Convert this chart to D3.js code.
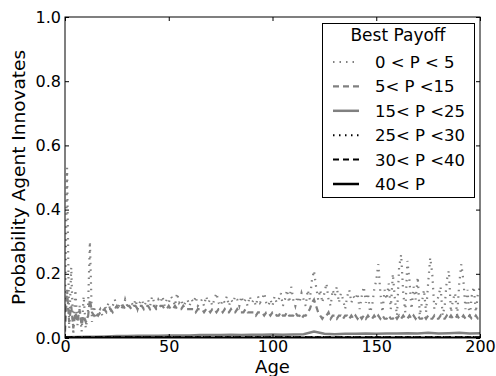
<!DOCTYPE html>
<html><head><meta charset="utf-8">
<script src="https://cdn.jsdelivr.net/npm/d3@7"></script>
<style>body{margin:0;background:#fff}svg{display:block}text{font-family:"DejaVu Sans",sans-serif}</style>
</head><body>
<script>
// Ages 0..200 for noisy series
const ages = d3.range(0, 201);
const seriesLow = [ // 0 < P < 5
0.08,0.53,0.03,0.22,0.01,0.15,0.04,0.10,0.02,0.13,0.03,0.07,0.30,0.05,0.10,0.06,0.08,0.09,0.07,0.10,
0.09,0.11,0.08,0.10,0.12,0.09,0.10,0.11,0.09,0.12,0.10,0.09,0.11,0.10,0.12,0.09,0.11,0.12,0.10,0.11,
0.12,0.10,0.13,0.11,0.10,0.12,0.11,0.13,0.10,0.12,0.11,0.13,0.12,0.10,0.14,0.11,0.12,0.10,0.11,0.12,
0.10,0.12,0.11,0.13,0.10,0.11,0.12,0.10,0.13,0.11,0.12,0.10,0.12,0.14,0.11,0.10,0.12,0.11,0.13,0.10,
0.12,0.11,0.13,0.12,0.10,0.13,0.11,0.12,0.10,0.13,0.11,0.12,0.10,0.13,0.11,0.12,0.14,0.11,0.10,0.12,
0.10,0.13,0.11,0.12,0.14,0.10,0.12,0.15,0.11,0.16,0.12,0.10,0.13,0.11,0.14,0.12,0.10,0.15,0.12,0.18,
0.21,0.16,0.12,0.15,0.11,0.14,0.17,0.12,0.10,0.15,0.13,0.16,0.11,0.14,0.12,0.09,0.13,0.15,0.11,0.13,
0.12,0.14,0.09,0.13,0.16,0.11,0.14,0.08,0.10,0.15,0.18,0.23,0.14,0.08,0.15,0.12,0.17,0.09,0.20,0.12,
0.07,0.22,0.26,0.14,0.08,0.24,0.18,0.09,0.16,0.12,0.19,0.07,0.11,0.15,0.08,0.17,0.25,0.20,0.09,0.11,
0.13,0.16,0.07,0.10,0.18,0.21,0.08,0.12,0.14,0.07,0.17,0.23,0.18,0.09,0.15,0.06,0.13,0.16,0.08,0.14,
0.16];
const seriesMid = [ // 5 < P < 15
0.02,0.15,0.05,0.10,0.03,0.08,0.05,0.09,0.04,0.07,0.05,0.06,0.12,0.08,0.07,0.08,0.07,0.08,0.08,0.09,
0.08,0.09,0.09,0.08,0.09,0.10,0.09,0.09,0.10,0.09,0.10,0.10,0.09,0.10,0.10,0.09,0.10,0.10,0.09,0.10,
0.10,0.09,0.10,0.10,0.09,0.09,0.10,0.10,0.09,0.09,0.10,0.09,0.09,0.10,0.09,0.09,0.09,0.10,0.09,0.09,
0.09,0.09,0.09,0.08,0.09,0.09,0.09,0.08,0.09,0.09,0.08,0.09,0.09,0.08,0.09,0.09,0.08,0.09,0.08,0.08,
0.09,0.08,0.08,0.09,0.08,0.08,0.08,0.09,0.08,0.08,0.08,0.08,0.07,0.08,0.08,0.08,0.07,0.08,0.08,0.07,
0.08,0.08,0.07,0.07,0.08,0.07,0.07,0.08,0.07,0.07,0.07,0.08,0.07,0.07,0.06,0.07,0.07,0.08,0.09,0.11,
0.12,0.10,0.08,0.07,0.06,0.07,0.07,0.08,0.06,0.07,0.07,0.06,0.07,0.07,0.06,0.07,0.07,0.06,0.07,0.06,
0.07,0.06,0.07,0.06,0.07,0.06,0.07,0.06,0.06,0.07,0.06,0.07,0.06,0.07,0.06,0.06,0.07,0.06,0.06,0.07,
0.06,0.07,0.06,0.07,0.06,0.06,0.07,0.06,0.07,0.06,0.07,0.06,0.06,0.07,0.06,0.07,0.06,0.06,0.07,0.06,
0.06,0.07,0.06,0.06,0.07,0.06,0.07,0.06,0.06,0.07,0.06,0.06,0.07,0.06,0.06,0.07,0.06,0.06,0.07,0.06,
0.06];
// Smoother series sampled every 5 ages
const agesCoarse = d3.range(0, 201, 5);
const seriesHigh = [ // 15 < P < 25
0.002,0.003,0.004,0.004,0.005,0.006,0.006,0.007,0.007,0.007,0.008,0.008,0.008,0.009,0.009,0.009,0.010,0.009,0.010,0.010,
0.011,0.010,0.011,0.012,0.020,0.013,0.012,0.013,0.013,0.014,0.013,0.014,0.014,0.015,0.014,0.016,0.014,0.015,0.016,0.014,0.015];
const agesBlack = [0, 50, 100, 150, 200];
const series25 = [0.003, 0.003, 0.003, 0.003, 0.003];
const series30 = [0.002, 0.002, 0.002, 0.002, 0.002];
const series40 = [0.001, 0.001, 0.001, 0.001, 0.001];

const legendLabels = ["0 < P < 5", "5< P <15", "15< P <25", "25< P <30", "30< P <40", "40< P"];
const xTicks = [0, 50, 100, 150, 200];
const yTicks = [0.0, 0.2, 0.4, 0.6, 0.8, 1.0];

const W = 496, H = 376;
const m = {left: 65, right: 16, top: 17, bottom: 38};
const x = d3.scaleLinear().domain([0, 200]).range([m.left, W - m.right]);
const y = d3.scaleLinear().domain([0, 1]).range([H - m.bottom, m.top]);

const svg = d3.select("body").append("svg").attr("width", W).attr("height", H);

const styles = [
  {color: "#808080", dash: "1.5,5", w: 2.2},
  {color: "#808080", dash: "6,4", w: 2.2},
  {color: "#808080", dash: null, w: 2.5},
  {color: "#000", dash: "1.5,4.5", w: 2},
  {color: "#000", dash: "6,4", w: 2},
  {color: "#000", dash: null, w: 2.5}
];
const dataSets = [
  [ages, seriesLow], [ages, seriesMid], [agesCoarse, seriesHigh],
  [agesBlack, series25], [agesBlack, series30], [agesBlack, series40]
];

svg.append("clipPath").attr("id", "c").append("rect")
  .attr("x", m.left).attr("y", m.top).attr("width", W - m.left - m.right).attr("height", H - m.top - m.bottom);

const line = d3.line().x(d => x(d[0])).y(d => y(d[1]));
const g = svg.append("g").attr("clip-path", "url(#c)");
dataSets.forEach((ds, i) => {
  const pts = ds[0].map((a, j) => [a, ds[1][j]]);
  g.append("path").datum(pts).attr("d", line).attr("fill", "none")
    .attr("stroke", styles[i].color).attr("stroke-width", styles[i].w)
    .attr("stroke-dasharray", styles[i].dash);
});

// frame
svg.append("rect").attr("x", m.left).attr("y", m.top).attr("width", W - m.left - m.right)
  .attr("height", H - m.top - m.bottom).attr("fill", "none").attr("stroke", "#000").attr("stroke-width", 1);

// axes with inward ticks
const xb = svg.append("g").attr("transform", `translate(0,${H - m.bottom})`)
  .call(d3.axisBottom(x).tickValues(xTicks).tickSize(-4).tickPadding(3).tickFormat(d3.format("d")));
const xt = svg.append("g").attr("transform", `translate(0,${m.top})`)
  .call(d3.axisTop(x).tickValues(xTicks).tickSize(-4).tickFormat(""));
const yl = svg.append("g").attr("transform", `translate(${m.left},0)`)
  .call(d3.axisLeft(y).tickValues(yTicks).tickSize(-4).tickPadding(4).tickFormat(d3.format(".1f")));
const yr = svg.append("g").attr("transform", `translate(${W - m.right},0)`)
  .call(d3.axisRight(y).tickValues(yTicks).tickSize(-4).tickFormat(""));
[xb, xt, yl, yr].forEach(a => {
  a.select(".domain").remove();
  a.selectAll("text").attr("font-family", "DejaVu Sans").attr("font-size", 16).attr("fill", "#000");
});
xb.selectAll("text").attr("dy", "0.68em");

svg.append("text").attr("x", (m.left + W - m.right) / 2).attr("y", H - 3)
  .attr("text-anchor", "middle").attr("font-size", 18).text("Age");
svg.append("text").attr("transform", `translate(25,${(m.top + H - m.bottom) / 2}) rotate(-90)`)
  .attr("text-anchor", "middle").attr("font-size", 18.5).text("Probability Agent Innovates");

// legend
const lg = svg.append("g");
lg.append("rect").attr("x", 322.5).attr("y", 23.5).attr("width", 152).attr("height", 174)
  .attr("fill", "#fff").attr("stroke", "#000").attr("stroke-width", 1);
lg.append("text").attr("x", 398).attr("y", 41).attr("text-anchor", "middle").attr("font-size", 17).text("Best Payoff");
legendLabels.forEach((lab, i) => {
  const yy = 62 + i * 24.4;
  lg.append("line").attr("x1", 333).attr("x2", 359).attr("y1", yy).attr("y2", yy)
    .attr("stroke", styles[i].color).attr("stroke-width", styles[i].w).attr("stroke-dasharray", styles[i].dash);
  lg.append("text").attr("x", 375).attr("y", yy + 6).attr("font-size", 16.5).text(lab);
});
</script>
</body></html>
